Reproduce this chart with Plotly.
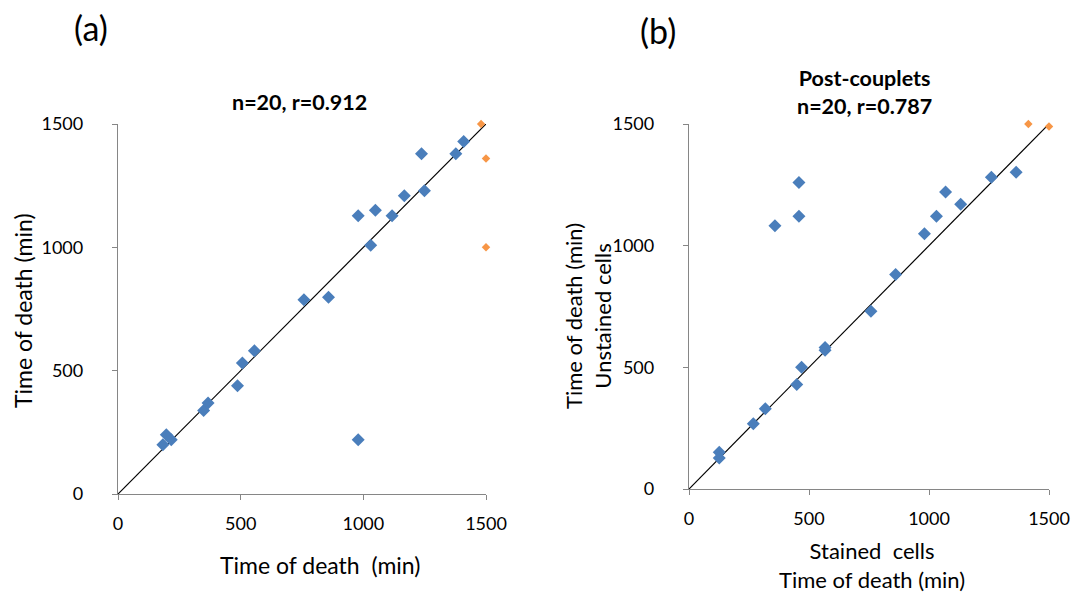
import plotly.graph_objects as go

# Panel (a) data
a_blue_x = [197, 183, 217, 349, 367, 487, 507, 556, 758, 858, 979, 1049, 1030, 1117, 1167, 1249, 1237, 1377, 1409, 979]
a_blue_y = [240, 200, 220, 339, 369, 439, 531, 581, 788, 798, 1128, 1150, 1008, 1128, 1209, 1229, 1379, 1379, 1429, 220]
a_orange_x = [1480, 1500, 1500]
a_orange_y = [1500, 1360, 1000]

# Panel (b) data
b_blue_x = [126, 126, 268, 318, 449, 469, 567, 567, 758, 861, 358, 458, 458, 981, 1031, 1069, 1132, 1260, 1363]
b_blue_y = [151, 127, 268, 330, 429, 500, 581, 570, 730, 881, 1082, 1121, 1260, 1049, 1121, 1221, 1170, 1281, 1302]
b_orange_x = [1414, 1500]
b_orange_y = [1500, 1490]

diag = [0, 1500]
tick_vals = [0, 500, 1000, 1500]
tick_text = ["0", "500", "1000", "1500"]

BLUE = "#4a7ebb"
ORANGE = "#f79646"
FONT = "Lato, 'Open Sans', sans-serif"
AXC = "#868686"

fig = go.Figure()

def add_panel(bx, by, ox, oy, xa, ya):
    fig.add_trace(go.Scatter(x=diag, y=diag, mode="lines", line=dict(color="black", width=1.2),
                             xaxis=xa, yaxis=ya, showlegend=False, hoverinfo="skip"))
    fig.add_trace(go.Scatter(x=bx, y=by, mode="markers",
                             marker=dict(symbol="diamond", size=10, color=BLUE),
                             xaxis=xa, yaxis=ya, showlegend=False, cliponaxis=False))
    fig.add_trace(go.Scatter(x=ox, y=oy, mode="markers",
                             marker=dict(symbol="diamond", size=6.5, color=ORANGE),
                             xaxis=xa, yaxis=ya, showlegend=False, cliponaxis=False))

add_panel(a_blue_x, a_blue_y, a_orange_x, a_orange_y, "x", "y")
add_panel(b_blue_x, b_blue_y, b_orange_x, b_orange_y, "x2", "y2")

W, H = 1077, 593
def px_x(p):
    return p / W
def px_y(p):
    return 1 - p / H

axis_common = dict(range=[0, 1500], tickvals=tick_vals, ticktext=tick_text, showgrid=False,
                   zeroline=False, showline=True, linecolor=AXC, linewidth=1.3,
                   ticks="outside", ticklen=5, tickcolor=AXC, tickwidth=1.3, automargin=False,
                   tickfont=dict(family=FONT, size=18, color="black"), fixedrange=True)

fig.update_layout(
    width=W, height=H, margin=dict(l=0, r=0, t=0, b=0, pad=0, autoexpand=False),
    paper_bgcolor="white", plot_bgcolor="white",
    xaxis=dict(domain=[px_x(118), px_x(486)], anchor="y", ticklabelstandoff=8, **axis_common),
    yaxis=dict(domain=[px_y(494), px_y(124)], anchor="x", ticklabelstandoff=25, **axis_common),
    xaxis2=dict(domain=[px_x(689), px_x(1049)], anchor="y2", ticklabelstandoff=8, **axis_common),
    yaxis2=dict(domain=[px_y(489), px_y(124)], anchor="x2", ticklabelstandoff=25, **axis_common),
    showlegend=False,
)

def ann(text, x, y, size=17, bold=False, angle=0):
    if bold:
        text = "<b>" + text + "</b>"
    fig.add_annotation(text=text, x=px_x(x), y=px_y(y), xref="paper", yref="paper",
                       showarrow=False, textangle=angle, xanchor="center", yanchor="middle",
                       font=dict(family=FONT, size=size, color="black"))

ann("(a)", 91, 28, size=34)
ann("(b)", 658, 31, size=34)
ann("n=20, r=0.912", 299, 102, size=21.5, bold=True)
ann("Post-couplets<br>n=20, r=0.787", 864, 92, size=21.5, bold=True)
ann("Time of death (min)", 23, 311, size=23, angle=-90)
ann("Time of death  (min)", 320, 565, size=23)
ann("Time of death (min)<br>Unstained cells", 588, 316, size=22, angle=-90)
ann("Stained  cells<br>Time of death (min)", 872, 565, size=22)

fig.write_html("out.html", config={"displayModeBar": False},
               post_script="document.body.style.margin='0';document.body.style.overflow='hidden';")
